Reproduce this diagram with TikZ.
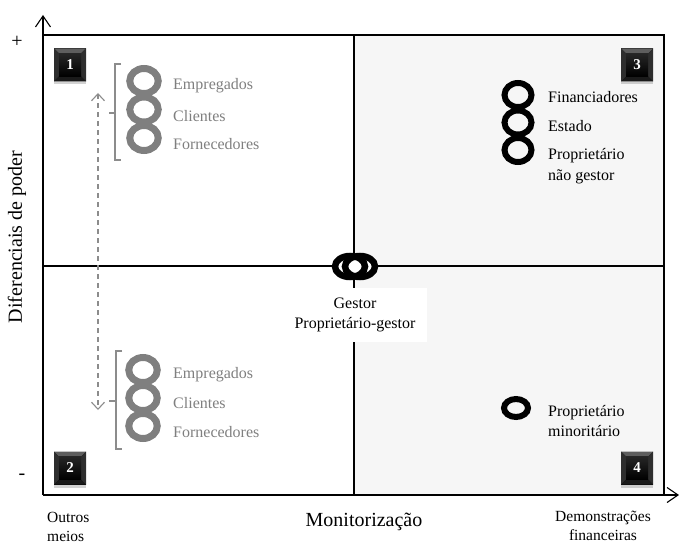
\documentclass[tikz,border=0pt]{standalone}
\usepackage{fontspec}
\setmainfont{Liberation Serif}
\usetikzlibrary{arrows.meta,shapes.geometric,shadows,calc}

\definecolor{ringgray}{HTML}{7F7F7F}
\definecolor{labelgray}{HTML}{7F7F7F}
\definecolor{guide}{HTML}{8C8C8C}
\definecolor{panel}{HTML}{F6F6F6}
\definecolor{bevtop}{HTML}{5E5E5E}
\definecolor{bevside}{HTML}{2E2E2E}
\definecolor{bevbot}{HTML}{1A1A1A}

\tikzset{
  lbl/.style={font=\fontsize{16}{20.5}\selectfont, anchor=west, inner sep=0pt, align=left},
  graylbl/.style={lbl, text=labelgray},
  axislbl/.style={font=\fontsize{20}{24}\selectfont, inner sep=0pt},
  sidelbl/.style={font=\fontsize{15.5}{19}\selectfont, inner sep=0pt, align=center},
  grayring/.style={ellipse, draw=ringgray, line width=7pt, minimum width=28.5pt, minimum height=25pt, inner sep=0pt},
  blackring/.style={ellipse, draw=black, line width=6pt, minimum width=27pt, minimum height=24pt, inner sep=0pt},
  ringbase/.style={ellipse, fill=white, draw=none, minimum width=30pt, minimum height=21pt, inner sep=0pt},
  axis/.style={line width=1.2pt, -{Straight Barb[length=11pt,width=15pt,line width=1.1pt]}},
  frame/.style={line width=1.1pt},
  bracket/.style={draw=guide, line width=1.1pt},
  tag/.style={
    minimum width=32pt, minimum height=33pt, inner sep=0pt, fill=black,
    text=white, font=\fontsize{15}{15}\selectfont\bfseries,
    drop shadow={shadow xshift=0pt, shadow yshift=-3pt, opacity=0.35},
    path picture={
      \coordinate (nw) at (path picture bounding box.north west);
      \coordinate (ne) at (path picture bounding box.north east);
      \coordinate (sw) at (path picture bounding box.south west);
      \coordinate (se) at (path picture bounding box.south east);
      \fill[bevtop] (nw) -- (ne) -- ($(ne)+(-5pt,-5pt)$) -- ($(nw)+(5pt,-5pt)$) -- cycle;
      \fill[bevside] (nw) -- (sw) -- ($(sw)+(5pt,5pt)$) -- ($(nw)+(5pt,-5pt)$) -- cycle;
      \fill[bevside] (ne) -- (se) -- ($(se)+(-5pt,5pt)$) -- ($(ne)+(-5pt,-5pt)$) -- cycle;
      \fill[bevbot] (sw) -- (se) -- ($(se)+(-5pt,5pt)$) -- ($(sw)+(5pt,5pt)$) -- cycle;
      \shade[top color=black!85, bottom color=black] ($(nw)+(5pt,-5pt)$) rectangle ($(se)+(-5pt,5pt)$);
    }
  }
}

\begin{document}
\begin{tikzpicture}[x=1pt,y=-1pt]
  \useasboundingbox (0,0) rectangle (679,545);

  % frame corners and axis ends
  \coordinate (O)    at (43,495);
  \coordinate (ytip) at (43,15);
  \coordinate (xtip) at (679,495);
  \coordinate (TL)   at (43,35);
  \coordinate (TR)   at (664,35);
  \coordinate (BR)   at (664,495);
  \coordinate (MT)   at (354,35);
  \coordinate (MB)   at (354,495);
  \coordinate (ML)   at (43,266);
  \coordinate (MR)   at (664,266);

  % shaded right half (quadrants 3 and 4)
  \fill[panel] (MT) rectangle (BR);

  % frame and quadrant dividers
  \draw[frame] (TL) -- (TR) -- (BR);
  \draw[frame] (MT) -- (MB);
  \draw[frame] (ML) -- (MR);

  % axes
  \draw[axis] (O) -- (ytip);
  \draw[axis] (O) -- (xtip);

  % quadrant tags
  \node[tag] (t1) at (70,65)  {1};
  \node[tag] (t2) at (70,468) {2};
  \node[tag] (t3) at (637,65) {3};
  \node[tag] (t4) at (637,468) {4};

  % dashed double arrow between the two grey groups
  \coordinate (dup)   at (98,93);
  \coordinate (ddown) at (98,410);
  \draw[guide, line width=1.1pt, dash pattern=on 5pt off 4pt,
        {Straight Barb[length=7pt,width=13pt,line width=1.1pt]}-{Straight Barb[length=7pt,width=13pt,line width=1.1pt]}]
        (dup) -- (ddown);

  % upper grey group
  \draw[bracket] (121,64) -- (115,64) -- (115,160) -- (121,160);
  \draw[bracket] (115,113) -- (109,113);
  \node[grayring] (ga1) at (144,81)  {};
  \node[grayring] (ga2) at (144,109.5) {};
  \node[grayring] (ga3) at (144,138) {};
  \node[graylbl] (la1) at (173,86)  {Empregados};
  \node[graylbl] (la2) at (173,116) {Clientes};
  \node[graylbl] (la3) at (173,144) {Fornecedores};

  % lower grey group
  \draw[bracket] (122,351) -- (116,351) -- (116,449) -- (122,449);
  \draw[bracket] (116,401) -- (109,401);
  \node[grayring] (gb1) at (143,370) {};
  \node[grayring] (gb2) at (143,398) {};
  \node[grayring] (gb3) at (143,426) {};
  \node[graylbl] (lb1) at (173,375) {Empregados};
  \node[graylbl] (lb2) at (173,403) {Clientes};
  \node[graylbl] (lb3) at (173,432) {Fornecedores};

  % quadrant 3 group
  \node[blackring] (k1) at (518,95)  {};
  \node[blackring] (k2) at (518,122.5) {};
  \node[blackring] (k3) at (518,150) {};
  \node[lbl] (lk1) at (548,97)  {Financiadores};
  \node[lbl] (lk2) at (548,126) {Estado};
  \node[lbl] (lk3) at (548,166) {Proprietário\\não gestor};

  % quadrant 4
  \node[blackring, minimum width=24pt, minimum height=18pt] (m1) at (516,408) {};
  \node[lbl] (lm1) at (548,421) {Proprietário\\minoritário};

  % centre label and overlapping rings on a white base
  \node[fill=white, minimum width=144pt, minimum height=54pt, inner sep=0pt,
        font=\fontsize{16}{20}\selectfont, align=center] (gestor) at (355,315)
        {Gestor\\Proprietário-gestor};
  \node[ringbase] (cw1) at (350,266.5) {};
  \node[ringbase] (cw2) at (360,266.5) {};
  \node[blackring, line width=6.5pt, minimum width=30pt, minimum height=21pt] (c1) at (350,266.5) {};
  \node[blackring, line width=6.5pt, minimum width=30pt, minimum height=21pt] (c2) at (360,266.5) {};

  % axis captions
  \node[axislbl] (xl) at (364,522) {Monitorização};
  \node[axislbl, rotate=90] (yl) at (17,237) {Diferenciais de poder};
  \node[sidelbl, anchor=north west, align=left] (xlo) at (47,512) {Outros\\meios};
  \node[sidelbl, anchor=north] (xhi) at (603,511) {Demonstrações\\financeiras};
  \node[font=\fontsize{20}{20}\selectfont, inner sep=0pt] (plus) at (17,42) {+};
  \node[font=\fontsize{20}{20}\selectfont, inner sep=0pt] (minus) at (22,477) {-};
\end{tikzpicture}
\end{document}
